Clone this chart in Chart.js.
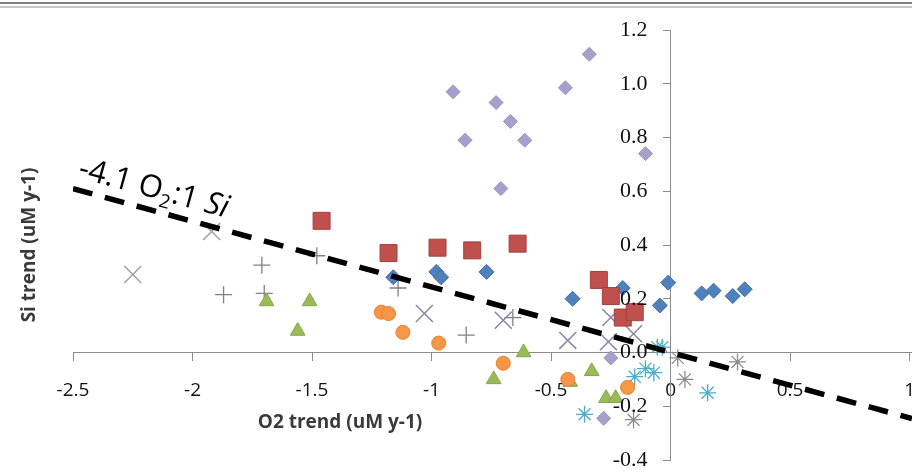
<!DOCTYPE html>
<html>
<head>
<meta charset="utf-8">
<script src="https://cdn.jsdelivr.net/npm/chart.js@4.4.1/dist/chart.umd.min.js"></script>
<style>
  html, body { margin: 0; background: #fff; overflow: hidden; }
  #wrap { position: relative; width: 912px; height: 472px; }
  canvas { display: block; }
</style>
</head>
<body>
<div id="wrap"><canvas id="trendChart"></canvas></div>
<script>
// axis ticks
const xTicks = [-2.5, -2, -1.5, -1, -0.5, 0, 0.5, 1];
const xTickLabels = ["-2.5", "-2", "-1.5", "-1", "-0.5", "0", "0.5", "1"];
const yTicks = [-0.4, -0.2, 0, 0.2, 0.4, 0.6, 0.8, 1.0, 1.2];
const yTickLabels = ["-0.4", "-0.2", "0.0", "0.2", "0.4", "0.6", "0.8", "1.0", "1.2"];

const xTitle = "O2 trend (uM y-1)";
const yTitle = "Si trend (uM y-1)";

// -4.1 O2 : 1 Si reference line
const ratioLineX = [-2.5, 1.01];
const ratioLineY = [0.61, -0.246];

// series
const blueX = [-1.16, -0.98, -0.96, -0.77, -0.41, -0.20, -0.045, -0.01, 0.13, 0.18, 0.26, 0.31];
const blueY = [0.28, 0.30, 0.28, 0.30, 0.20, 0.24, 0.175, 0.26, 0.22, 0.23, 0.21, 0.235];

const redX = [-1.46, -1.18, -0.975, -0.83, -0.64, -0.30, -0.25, -0.20, -0.15];
const redY = [0.49, 0.37, 0.39, 0.38, 0.405, 0.27, 0.21, 0.13, 0.15];

const greenX = [-1.69, -1.51, -1.56, -0.74, -0.615, -0.42, -0.33, -0.27, -0.23];
const greenY = [0.19, 0.19, 0.08, -0.10, 0.0, -0.11, -0.07, -0.17, -0.17];

const orangeX = [-1.21, -1.18, -1.12, -0.97, -0.70, -0.43, -0.18];
const orangeY = [0.15, 0.145, 0.075, 0.035, -0.04, -0.10, -0.13];

const lavenderX = [-0.91, -0.34, -0.44, -0.73, -0.67, -0.86, -0.61, -0.105, -0.71, -0.25, -0.28];
const lavenderY = [0.97, 1.11, 0.985, 0.93, 0.86, 0.79, 0.79, 0.74, 0.61, -0.02, -0.245];

const purpleCrossX = [-1.03, -0.70, -0.43, -0.25, -0.26, -0.155];
const purpleCrossY = [0.145, 0.12, 0.045, 0.13, 0.04, 0.07];

const grayCrossX = [-2.25, -1.92];
const grayCrossY = [0.29, 0.45];

const plusX = [-1.87, -1.71, -1.70, -1.48, -1.14, -0.855, -0.66];
const plusY = [0.215, 0.325, 0.22, 0.36, 0.24, 0.065, 0.13];

const cyanStarX = [-0.36, -0.15, -0.105, -0.07, -0.055, -0.035, 0.155];
const cyanStarY = [-0.23, -0.09, -0.06, -0.075, 0.02, 0.02, -0.15];

const grayStarX = [-0.155, 0.03, 0.06, 0.28];
const grayStarY = [-0.25, -0.02, -0.10, -0.035];

const pts = (xs, ys) => xs.map((x, i) => ({ x, y: ys[i] }));

function markers(xs, ys, pointStyle, radius, fill, border, borderWidth) {
  return {
    data: pts(xs, ys),
    pointStyle,
    pointRadius: radius,
    pointBackgroundColor: fill,
    pointBorderColor: border,
    pointBorderWidth: borderWidth,
    showLine: false,
  };
}

// the crossing axes should not push the plot area inwards
function noPadding(scale) {
  scale.paddingLeft = 0;
  scale.paddingRight = 0;
  scale.paddingTop = 0;
  scale.paddingBottom = 0;
}

const decorations = {
  id: "decorations",
  beforeDraw(chart) {
    const { ctx, width, height } = chart;
    ctx.save();
    ctx.fillStyle = "#fff";
    ctx.fillRect(0, 0, width, height);
    ctx.fillStyle = "#808080";
    ctx.fillRect(0, 2, width, 2);
    ctx.fillStyle = "#c8c8c8";
    ctx.fillRect(0, 6, width, 2);
    ctx.restore();
  },
  afterDraw(chart) {
    const { ctx, scales } = chart;

    // y tick labels sit left of the crossing axis
    const axisX = scales.x.getPixelForValue(0);
    ctx.save();
    ctx.fillStyle = "#111";
    ctx.font = '22px "Liberation Serif"';
    ctx.textAlign = "right";
    ctx.textBaseline = "middle";
    yTicks.forEach((v, i) => ctx.fillText(yTickLabels[i], axisX - 23, scales.y.getPixelForValue(v)));
    ctx.restore();

    ctx.save();
    ctx.fillStyle = "#3a3a3a";
    ctx.font = 'bold 19px "Open Sans"';
    ctx.textAlign = "center";
    ctx.textBaseline = "middle";
    ctx.fillText(xTitle, 340, 423);
    ctx.translate(30, 245);
    ctx.rotate(-Math.PI / 2);
    ctx.fillText(yTitle, 0, 0);
    ctx.restore();

    // slanted ratio label
    ctx.save();
    ctx.translate(77, 177);
    ctx.rotate((15.3 * Math.PI) / 180);
    ctx.fillStyle = "#000";
    ctx.textBaseline = "alphabetic";
    ctx.textAlign = "left";
    let cx = 0;
    const parts = [
      ["-4.1 O", '31px "Open Sans"', 0],
      ["2", '19px "Open Sans"', 7],
      [":1 ", '31px "Open Sans"', 0],
      ["Si", 'italic 31px "Open Sans"', 0],
    ];
    parts.forEach(([text, font, dy]) => {
      ctx.font = font;
      ctx.fillText(text, cx, dy);
      cx += ctx.measureText(text).width;
    });
    ctx.restore();
  },
};

function buildConfig() {
  return {
    type: "scatter",
    data: {
      datasets: [
        {
          data: pts(ratioLineX, ratioLineY),
          showLine: true,
          borderColor: "#000",
          borderWidth: 5.5,
          borderDash: [20, 13],
          borderCapStyle: "butt",
          pointRadius: 0,
          order: -1,
        },
        markers(orangeX, orangeY, "circle", 7, "#F79646", "#E8822F", 1),
        markers(redX, redY, "rect", 12, "#C0504D", "#A33F3C", 1),
        markers(blueX, blueY, "rectRot", 7.5, "#4F81BD", "#3E6DA6", 1),
        markers(greenX, greenY, "triangle", 8.5, "#9BBB59", "#86A647", 1),
        markers(lavenderX, lavenderY, "rectRot", 7, "#A6A1CC", "#9994BF", 1),
        markers(purpleCrossX, purpleCrossY, "crossRot", 12, "#8A84A6", "#8A84A6", 1.5),
        markers(grayCrossX, grayCrossY, "crossRot", 12, "#A0A0A0", "#A0A0A0", 1.5),
        markers(plusX, plusY, "cross", 8.5, "#80808C", "#80808C", 1.3),
        markers(cyanStarX, cyanStarY, "star", 8.5, "#4BACC6", "#4BACC6", 1.3),
        markers(grayStarX, grayStarY, "star", 8.5, "#8C8C8C", "#8C8C8C", 1.3),
      ],
    },
    options: {
      responsive: true,
      maintainAspectRatio: false,
      animation: false,
      layout: { autoPadding: false, padding: { left: 73, right: 0, top: 30, bottom: 12 } },
      plugins: { legend: { display: false }, tooltip: { enabled: false } },
      scales: {
        x: {
          type: "linear",
          min: -2.5,
          max: 1.01,
          position: { y: 0 },
          afterBuildTicks: (axis) => { axis.ticks = xTicks.map((value) => ({ value })); },
          afterFit: noPadding,
          ticks: {
            callback: (value) => xTickLabels[xTicks.findIndex((t) => Math.abs(t - value) < 1e-6)],
            font: { family: "Open Sans", size: 19 },
            color: "#111",
            padding: 19,
            maxRotation: 0,
            autoSkip: false,
          },
          grid: { drawOnChartArea: false, drawTicks: true, tickLength: 8, color: "#8c8c8c" },
          border: { color: "#8c8c8c", width: 1 },
        },
        y: {
          type: "linear",
          min: -0.4,
          max: 1.2,
          position: { x: 0 },
          afterBuildTicks: (axis) => { axis.ticks = yTicks.map((value) => ({ value })); },
          afterFit: noPadding,
          ticks: { display: false },
          grid: { drawOnChartArea: false, drawTicks: true, tickLength: 7, color: "#8c8c8c" },
          border: { color: "#8c8c8c", width: 1 },
        },
      },
    },
    plugins: [decorations],
  };
}

new Chart(document.querySelector("#trendChart"), buildConfig());
</script>
</body>
</html>
